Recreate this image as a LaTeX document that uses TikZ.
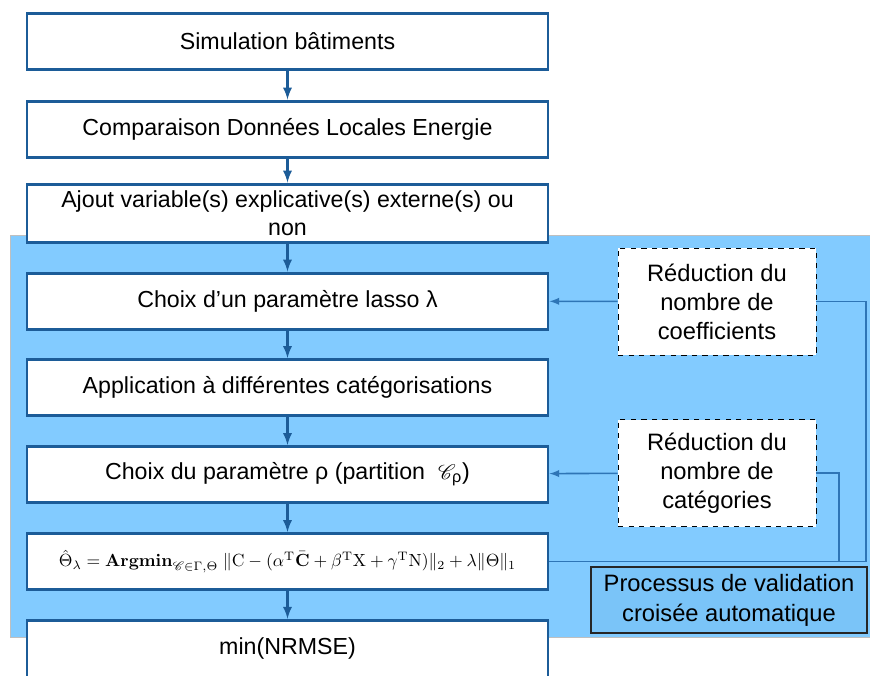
\documentclass[tikz,border=0pt]{standalone}
\usepackage[no-math]{fontspec}
\usepackage{amsmath, amssymb}
\usepackage{mathrsfs}
\setmainfont{Liberation Sans}
\definecolor{boxblue}{RGB}{28,92,152}
\definecolor{linkblue}{RGB}{46,117,182}
\definecolor{zoneblue}{RGB}{130,203,255}
\definecolor{procblue}{RGB}{122,196,248}

\tikzset{
  etape/.style = {draw = boxblue, line width = 1.7pt, fill = white,
    minimum width = 10.42cm, minimum height = 1.12cm, align = center,
    inner sep = 1pt, font = \fontsize{13.2}{16}\selectfont},
  reduc/.style = {draw, dashed, thin, fill = white, minimum width = 3.96cm,
    minimum height = 2.14cm, align = center,
    font = \fontsize{13.5}{16.5}\selectfont},
  flux/.style = {->, >=latex, draw = boxblue, line width = 1.3pt},
  retour/.style = {draw = linkblue, line width = 0.9pt},
}

\begin{document}
\begin{tikzpicture}
      \useasboundingbox (0, 0) rectangle (17.4, -13.5);
      % zone de validation croisee
      \fill [zoneblue, draw = black!25, line width = 0.4pt] (0.2, -4.7) rectangle (17.4, -12.74);
      % chaine principale
      \node [etape] (sim) at (5.75, -0.83) {Simulation bâtiments};
      \node [etape] (comp) at (5.75, -2.58) {Comparaison Données Locales Energie};
      \node [etape, minimum height = 1.16cm] (ajout) at (5.75, -4.26)
        {Ajout variable(s) explicative(s) externe(s) ou\\non};
      \node [etape] (lasso) at (5.75, -6.02) {Choix d’un paramètre lasso λ};
      \node [etape] (appli) at (5.75, -7.75) {Application à différentes catégorisations};
      \node [etape] (rho) at (5.75, -9.49)
        {Choix du paramètre ρ (partition \;$\mathscr{C}_{\text{ρ}}$)};
      \node [etape, font = \fontsize{9.6}{12}\selectfont] (argmin) at (5.75, -11.23)
        {$\hat{\Theta}_{\lambda} = \mathbf{Argmin}_{\mathscr{C}\in\Gamma,\Theta}\;
         \|\mathrm{C}-(\alpha^{\mathrm{T}}\bar{\mathbf{C}}+\beta^{\mathrm{T}}\mathrm{X}
         +\gamma^{\mathrm{T}}\mathrm{N})\|_2+\lambda\|\Theta\|_1$};
      % derniere boite, coupee par le bas de la page
      \node [etape, minimum height = 0pt, text height = 0.64cm, text depth = 0.6cm,
             anchor = base] (nrmse) at (5.75, -13.08) {min(NRMSE)};
      \foreach \a/\b in {sim/comp, comp/ajout, ajout/lasso, lasso/appli,
                         appli/rho, rho/argmin, argmin/nrmse}{
        \draw [flux] (\a) -- (\b);
      }
      % boucles de reduction
      \node [reduc] (coef) at (14.34, -6.03) {Réduction du\\nombre de\\coefficients};
      \node [reduc] (cat) at (14.34, -9.46) {Réduction du\\nombre de\\catégories};
      \node [draw = black!85, line width = 0.9pt, fill = procblue,
             minimum width = 5.52cm, minimum height = 1.32cm, align = center,
             font = \fontsize{13.5}{17}\selectfont] (proc) at (14.58, -12.0)
        {Processus de validation\\croisée automatique};
      \coordinate (ra) at (17.32, -11.23);
      \coordinate (rb) at (16.78, -11.23);
      \draw [retour, ->, >=latex] (coef) -- (lasso);
      \draw [retour, ->, >=latex] (cat) -- (rho);
      \draw [retour] (coef.east) -| (ra) -- (argmin.east);
      \draw [retour] (cat.east) -| (rb);
    \end{tikzpicture}
\end{document}
